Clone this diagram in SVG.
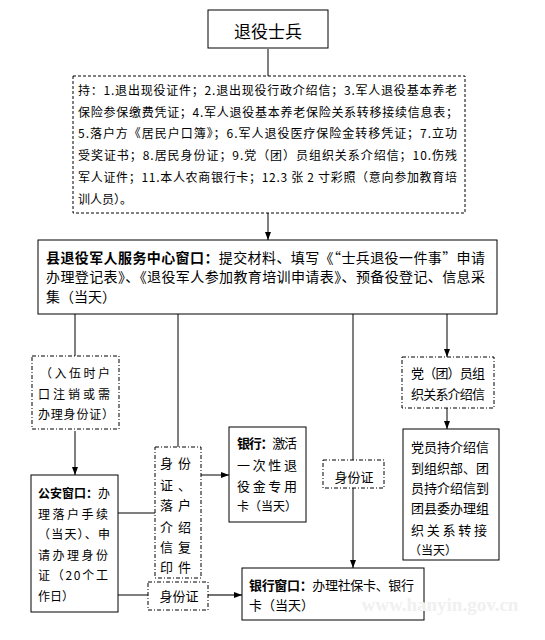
<svg xmlns="http://www.w3.org/2000/svg" width="545" height="640" viewBox="0 0 545 640">
<defs>
<style>
text{font-family:"Noto Sans CJK SC","Liberation Sans",sans-serif;fill:#000;}
.t12{font-size:12px;}
.t13{font-size:13px;}
.t14{font-size:14px;}
.b{font-weight:bold;}
.box{fill:#fff;stroke:#000;stroke-width:1;}
.dash{fill:#fff;stroke:#000;stroke-width:1;stroke-dasharray:3 2;}
.dd{fill:#fff;stroke:#000;stroke-width:1;stroke-dasharray:4 2 1 2;}
.ln{fill:none;stroke:#000;stroke-width:1;}
.ar{fill:none;stroke:#000;stroke-width:1;marker-end:url(#ah);}
</style>
<marker id="ah" viewBox="0 0 8 8" refX="8" refY="4" markerWidth="8" markerHeight="8" markerUnits="userSpaceOnUse" orient="auto">
<path d="M0,1 L8,4 L0,7 Z" fill="#000"/>
</marker>
</defs>
<rect width="545" height="640" fill="#fff"/>

<g id="connectors">
<line class="ln" x1="268" y1="49" x2="268" y2="76"/>
<line class="ar" x1="268" y1="213" x2="268" y2="240"/>
<line class="ln" x1="75" y1="314" x2="75" y2="356"/>
<line class="ar" x1="75" y1="431" x2="75" y2="475"/>
<line class="ln" x1="178" y1="314" x2="178" y2="447"/>
<line class="ln" x1="353" y1="314" x2="353" y2="460"/>
<line class="ar" x1="353" y1="488" x2="353" y2="568"/>
<line class="ar" x1="447" y1="314" x2="447" y2="357"/>
<line class="ar" x1="447" y1="408" x2="447" y2="429"/>
<line class="ln" x1="118" y1="513" x2="155" y2="513"/>
<line class="ar" x1="201" y1="475" x2="229" y2="475"/>
<line class="ln" x1="118" y1="595" x2="148" y2="595"/>
<line class="ar" x1="208" y1="595" x2="242" y2="595" style="stroke:#444;stroke-width:1.5"/>
</g>

<g id="soldier">
<rect class="box" x="208" y="10" width="120" height="38"/>
<text x="268" y="38" text-anchor="middle" style="font-size:17px">退役士兵</text>
</g>

<g id="materials">
<rect class="dash" x="73" y="76" width="392" height="137"/>
<text class="t12" x="78" y="94.5" textLength="379" lengthAdjust="spacing">持：1.退出现役证件；2.退出现役行政介绍信；3.军人退役基本养老</text>
<text class="t12" x="78" y="116.5" textLength="380" lengthAdjust="spacing">保险参保缴费凭证；4.军人退役基本养老保险关系转移接续信息表；</text>
<text class="t12" x="78" y="138" textLength="379" lengthAdjust="spacing">5.落户方《居民户口簿》；6.军人退役医疗保险金转移凭证；7.立功</text>
<text class="t12" x="78" y="160" textLength="379" lengthAdjust="spacing">受奖证书；8.居民身份证；9.党（团）员组织关系介绍信；10.伤残</text>
<text class="t12" x="78" y="182" textLength="379" lengthAdjust="spacing">军人证件；11.本人农商银行卡；12.3 张 2 寸彩照（意向参加教育培</text>
<text class="t12" x="78" y="204">训人员）。</text>
</g>

<g id="center">
<rect class="box" x="38" y="240" width="459" height="74"/>
<text class="t14" x="46" y="263" textLength="439" lengthAdjust="spacing"><tspan class="b">县退役军人服务中心窗口：</tspan>提交材料、填写《“士兵退役一件事”申请</text>
<text class="t14" x="46" y="282" textLength="439" lengthAdjust="spacing">办理登记表》、《退役军人参加教育培训申请表》、预备役登记、信息采</text>
<text class="t14" x="46" y="302">集（当天）</text>
</g>

<g id="hukou-note">
<rect class="dd" x="32" y="356" width="87" height="73"/>
<text class="t12" x="40" y="378" textLength="70" lengthAdjust="spacing">（入伍时户</text>
<text class="t12" x="38" y="399" textLength="72" lengthAdjust="spacing">口注销或需</text>
<text class="t12" x="38" y="419" textLength="76" lengthAdjust="spacing">办理身份证）</text>
</g>

<g id="police">
<rect class="box" x="31" y="475" width="87" height="137"/>
<text class="t12" x="38" y="498" textLength="72" lengthAdjust="spacing"><tspan class="b">公安窗口：</tspan>办</text>
<text class="t12" x="38" y="518.5" textLength="70" lengthAdjust="spacing">理落户手续</text>
<text class="t12" x="38" y="539" textLength="72" lengthAdjust="spacing">（当天）、申</text>
<text class="t12" x="38" y="559.5" textLength="70" lengthAdjust="spacing">请办理身份</text>
<text class="t12" x="38" y="580" textLength="70" lengthAdjust="spacing">证（20个工</text>
<text class="t12" x="38" y="601">作日）</text>
</g>

<g id="copy-docs">
<rect class="dd" x="155" y="447" width="46" height="131"/>
<text class="t13" x="160" y="468" textLength="31" lengthAdjust="spacing">身份</text>
<text class="t13" x="160" y="490" textLength="31" lengthAdjust="spacing">证、</text>
<text class="t13" x="160" y="510" textLength="31" lengthAdjust="spacing">落户</text>
<text class="t13" x="160" y="532" textLength="31" lengthAdjust="spacing">介绍</text>
<text class="t13" x="160" y="552" textLength="31" lengthAdjust="spacing">信复</text>
<text class="t13" x="160" y="572" textLength="31" lengthAdjust="spacing">印件</text>
</g>

<g id="bank-card">
<rect class="box" x="229" y="427" width="77" height="95"/>
<text class="t13" x="237" y="448" textLength="60" lengthAdjust="spacing"><tspan class="b">银行：</tspan>激活</text>
<text class="t13" x="237" y="470" textLength="60" lengthAdjust="spacing">一次性退</text>
<text class="t13" x="237" y="491" textLength="60" lengthAdjust="spacing">役金专用</text>
<text class="t12" x="237" y="511">卡（当天）</text>
</g>

<g id="id-card-1">
<rect class="dd" x="148" y="582" width="60" height="28"/>
<text class="t13" x="179" y="601" text-anchor="middle">身份证</text>
</g>

<g id="id-card-2">
<rect class="dd" x="323" y="460" width="61" height="28"/>
<text class="t13" x="354" y="482" text-anchor="middle">身份证</text>
</g>

<g id="bank-window">
<rect class="box" x="242" y="568" width="182" height="52"/>
<text class="t13" x="249" y="590" textLength="165" lengthAdjust="spacing"><tspan class="b">银行窗口：</tspan>办理社保卡、银行</text>
<text class="t13" x="249" y="610">卡（当天）</text>
</g>

<g id="party-letter">
<rect class="dd" x="402" y="357" width="92" height="51"/>
<text class="t13" x="411" y="378" textLength="74" lengthAdjust="spacing">党（团）员组</text>
<text class="t13" x="411" y="399" textLength="74" lengthAdjust="spacing">织关系介绍信</text>
</g>

<g id="party-transfer">
<rect class="box" x="403" y="429" width="96" height="131"/>
<text class="t13" x="411" y="452" textLength="78" lengthAdjust="spacing">党员持介绍信</text>
<text class="t13" x="411" y="473" textLength="78" lengthAdjust="spacing">到组织部、团</text>
<text class="t13" x="411" y="493" textLength="78" lengthAdjust="spacing">员持介绍信到</text>
<text class="t13" x="411" y="513" textLength="78" lengthAdjust="spacing">团县委办理组</text>
<text class="t13" x="411" y="535" textLength="76" lengthAdjust="spacing">织关系转接</text>
<text class="t12" x="409" y="555">（当天）</text>
</g>

<text x="440" y="611" text-anchor="middle" style="font-family:'Liberation Serif',serif;font-size:19px;font-weight:bold;fill:#f0f0f0">www.hanyin.gov.cn</text>
</svg>
